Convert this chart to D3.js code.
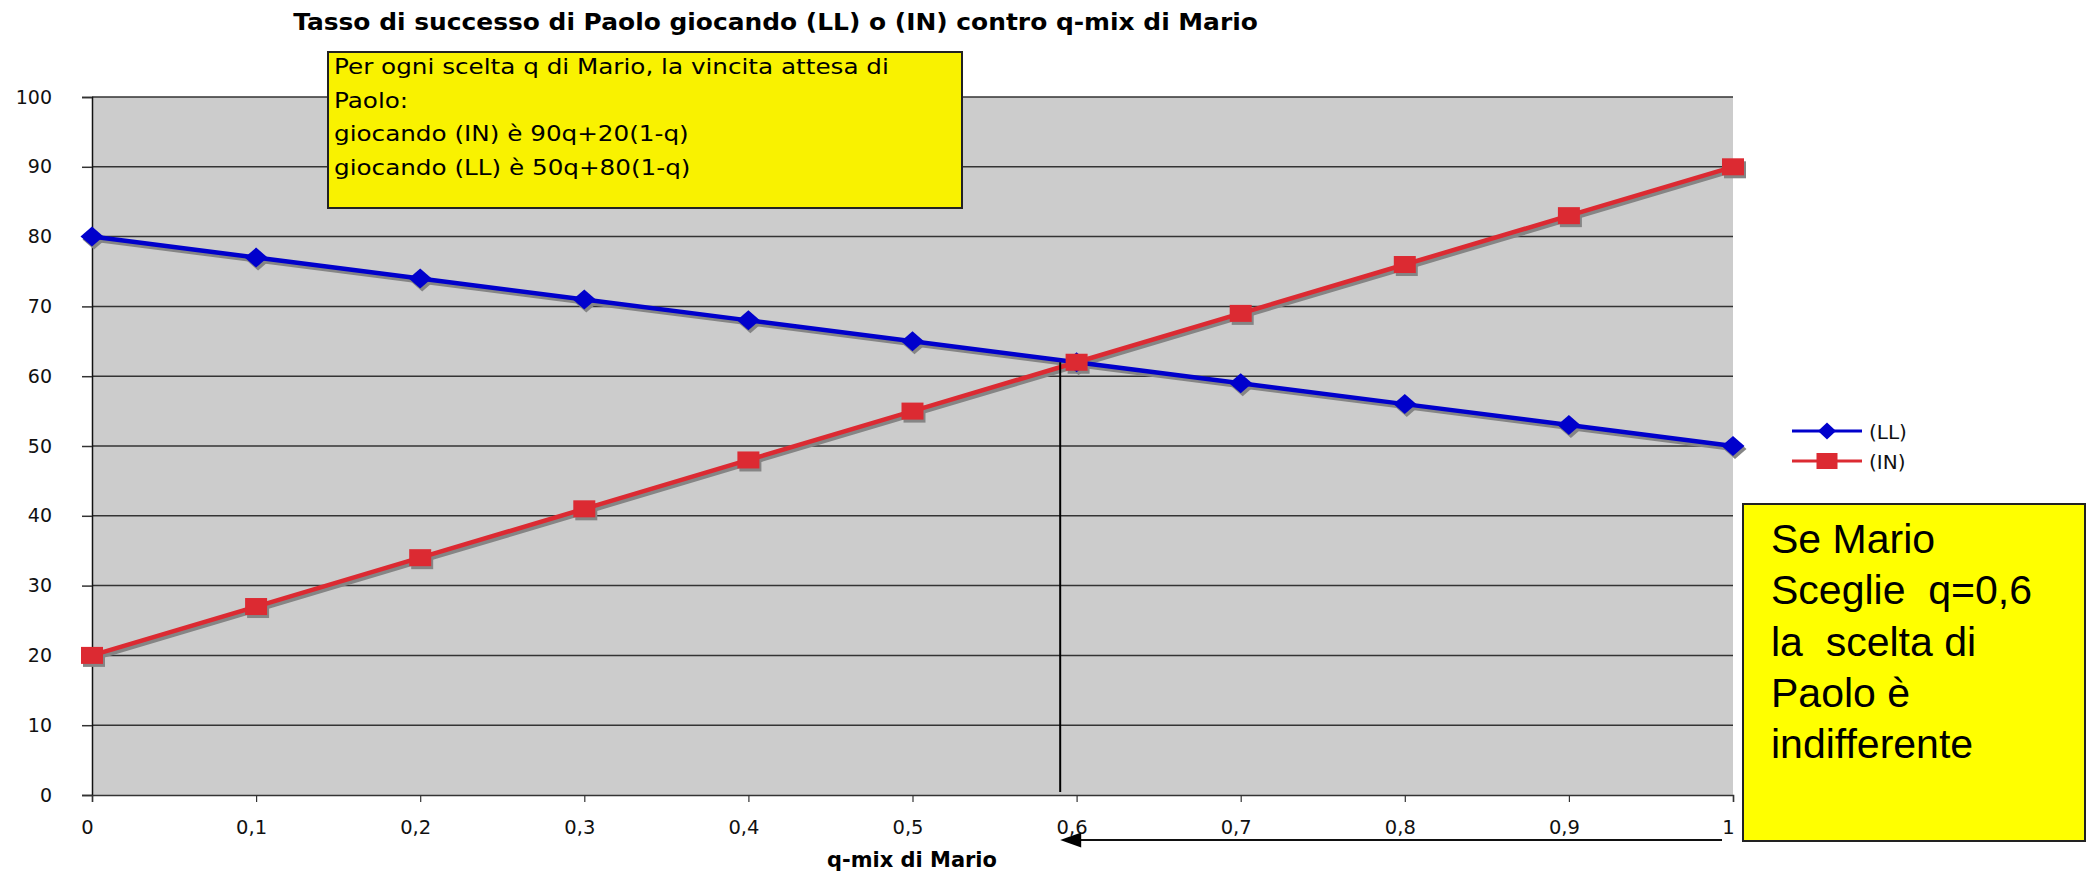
<!DOCTYPE html>
<html>
<head>
<meta charset="utf-8">
<script src="https://cdn.jsdelivr.net/npm/d3@7"></script>
<style>
  body { margin: 0; background: #fff; }
  svg { display: block; }
  text { font-family: "DejaVu Sans", Verdana, sans-serif; }
</style>
</head>
<body>
<svg id="chart" width="2093" height="871"></svg>
<script>
// Data
const qValues = [0, 0.1, 0.2, 0.3, 0.4, 0.5, 0.6, 0.7, 0.8, 0.9, 1]
const xTickLabels = ["0", "0,1", "0,2", "0,3", "0,4", "0,5", "0,6", "0,7", "0,8", "0,9", "1"]
const llValues = [80, 77, 74, 71, 68, 65, 62, 59, 56, 53, 50]
const inValues = [20, 27, 34, 41, 48, 55, 62, 69, 76, 83, 90]
const yTicks = [0, 10, 20, 30, 40, 50, 60, 70, 80, 90, 100]
const seriesNames = ["(LL)", "(IN)"]
const crossQ = 0.59
const crossValue = 62

const noteLines = [
  "Per ogni scelta q di Mario, la vincita attesa di",
  "Paolo:",
  "giocando (IN) è 90q+20(1-q)",
  "giocando (LL) è 50q+80(1-q)"
]
const sideLines = ["Se Mario", "Sceglie  q=0,6", "la  scelta di", "Paolo è", "indifferente"]

const svg = d3.select('#chart')

// Scales
const x = d3.scaleLinear().domain([0, 1]).range([92, 1733])
const y = d3.scaleLinear().domain([0, 100]).range([795, 97])

// the original text is a bit wider than DejaVu, stretch it to fit
const stretchTo = (sel, x0, y0, target) => {
  const w = sel.node().getComputedTextLength()
  const k = target / w
  sel.attr('x', 0).attr('y', 0).attr('transform', `translate(${x0},${y0}) scale(${k},1)`)
  return k
}

// Plot background
svg.append('rect')
  .attr('x', x(0)).attr('y', y(100))
  .attr('width', x(1) - x(0)).attr('height', y(0) - y(100))
  .attr('fill', '#cccccc')

// Gridlines
svg.append('g')
  .selectAll('line')
  .data(yTicks.filter(d => d > 0))
  .join('line')
  .attr('x1', x(0)).attr('x2', x(1))
  .attr('y1', d => y(d)).attr('y2', d => y(d))
  .attr('stroke', '#333')
  .attr('stroke-width', 1.5)

// Y axis
const yAxis = svg.append('g')
  .attr('transform', `translate(${x(0)},0)`)
  .call(d3.axisLeft(y).tickValues(yTicks).tickSize(10).tickPadding(30))
yAxis.select('.domain').attr('stroke', '#111').attr('stroke-width', 1.5)
yAxis.selectAll('.tick line').attr('stroke', '#333').attr('stroke-width', 1.5)
yAxis.selectAll('text').attr('font-size', 19).attr('fill', '#111')
  .style('font-family', '"DejaVu Sans", Verdana, sans-serif')

// X axis
const xAxis = svg.append('g')
  .attr('transform', `translate(0,${y(0)})`)
  .call(d3.axisBottom(x).tickValues(qValues).tickSize(7).tickPadding(18)
    .tickFormat((d, i) => xTickLabels[i]))
xAxis.select('.domain').attr('stroke', '#333').attr('stroke-width', 1.5)
xAxis.selectAll('.tick line').attr('stroke', '#333').attr('stroke-width', 1.2)
xAxis.selectAll('text').attr('font-size', 19.5).attr('fill', '#111').attr('x', -5)
  .style('font-family', '"DejaVu Sans", Verdana, sans-serif')

// Series
const line = d3.line().x((d, i) => x(qValues[i])).y(d => y(d))
const series = [
  { name: seriesNames[0], values: llValues, color: '#0000cc', marker: 'diamond' },
  { name: seriesNames[1], values: inValues, color: '#dc2a32', marker: 'square' }
]

const drawMarker = (g, type, color) => {
  if (type === 'diamond') {
    g.append('path').attr('d', 'M-11.5,0L0,-10L11.5,0L0,10Z').attr('fill', color)
  } else {
    g.append('rect').attr('x', -11).attr('y', -8.5).attr('width', 22).attr('height', 17).attr('fill', color)
  }
}

series.forEach(s => {
  // drop shadow
  const sh = svg.append('g').attr('transform', 'translate(2,3)')
  sh.append('path').datum(s.values).attr('d', line)
    .attr('fill', 'none').attr('stroke', '#858585').attr('stroke-width', 4.5)
  s.values.forEach((v, i) => {
    const m = sh.append('g').attr('transform', `translate(${x(qValues[i])},${y(v)})`)
    drawMarker(m, s.marker, '#858585')
  })
})

series.forEach(s => {
  svg.append('path').datum(s.values).attr('d', line)
    .attr('fill', 'none').attr('stroke', s.color).attr('stroke-width', 4.5)
  s.values.forEach((v, i) => {
    const m = svg.append('g').attr('transform', `translate(${x(qValues[i])},${y(v)})`)
    drawMarker(m, s.marker, s.color)
  })
})

// Vertical line at the crossing
svg.append('line')
  .attr('x1', x(crossQ)).attr('x2', x(crossQ))
  .attr('y1', y(crossValue)).attr('y2', y(0) - 3)
  .attr('stroke', '#000').attr('stroke-width', 2)

// Arrow below the axis
svg.append('line')
  .attr('x1', 1722).attr('x2', x(crossQ) + 20)
  .attr('y1', 840).attr('y2', 840)
  .attr('stroke', '#111').attr('stroke-width', 2)
svg.append('path')
  .attr('d', `M${x(crossQ)},840L${x(crossQ) + 21},832.5L${x(crossQ) + 21},847.5Z`)
  .attr('fill', '#000')

// Title
const title = svg.append('text')
  .attr('text-anchor', 'middle')
  .attr('font-size', 23).attr('font-weight', 'bold')
  .attr('fill', '#000')
  .text('Tasso di successo di Paolo giocando (LL) o (IN) contro q-mix di Mario')
stretchTo(title, 775.5, 30, 965)

// X axis title
const xTitle = svg.append('text')
  .attr('text-anchor', 'middle')
  .attr('font-size', 21).attr('font-weight', 'bold')
  .attr('fill', '#000')
  .text('q-mix di Mario')
stretchTo(xTitle, 912, 867, 170)

// Legend
const legend = svg.append('g')
series.forEach((s, i) => {
  const ly = 431 + i * 30
  legend.append('line').attr('x1', 1792).attr('x2', 1862).attr('y1', ly).attr('y2', ly)
    .attr('stroke', s.color).attr('stroke-width', 3)
  const m = legend.append('g').attr('transform', `translate(1827,${ly})`)
  if (s.marker === 'diamond') {
    m.append('path').attr('d', 'M-9,0L0,-8.5L9,0L0,8.5Z').attr('fill', s.color)
  } else {
    m.append('rect').attr('x', -10.5).attr('y', -8).attr('width', 21).attr('height', 16).attr('fill', s.color)
  }
  legend.append('text').attr('x', 1869).attr('y', ly + 8)
    .attr('font-size', 20).attr('fill', '#111').text(s.name)
})

// Note box (top)
svg.append('rect')
  .attr('x', 328).attr('y', 52).attr('width', 634).attr('height', 156)
  .attr('fill', '#f9f200').attr('stroke', '#222').attr('stroke-width', 2)
const notes = svg.append('g').selectAll('text')
  .data(noteLines)
  .join('text')
  .attr('font-size', 22).attr('fill', '#000')
  .text(d => d)
const noteK = 555 / notes.nodes()[0].getComputedTextLength()
notes.attr('transform', (d, i) => `translate(334,${74 + i * 33.7}) scale(${noteK},1)`)

// Side box
svg.append('rect')
  .attr('x', 1743).attr('y', 504).attr('width', 342).attr('height', 337)
  .attr('fill', '#ffff00').attr('stroke', '#222').attr('stroke-width', 2)
svg.append('g').selectAll('text')
  .data(sideLines)
  .join('text')
  .attr('x', 1771)
  .attr('y', (d, i) => 553 + i * 51.3)
  .attr('font-size', 41).attr('fill', '#000')
  .style('font-family', '"Liberation Sans", Arial, sans-serif')
  .style('white-space', 'pre')
  .text(d => d)
</script>
</body>
</html>
